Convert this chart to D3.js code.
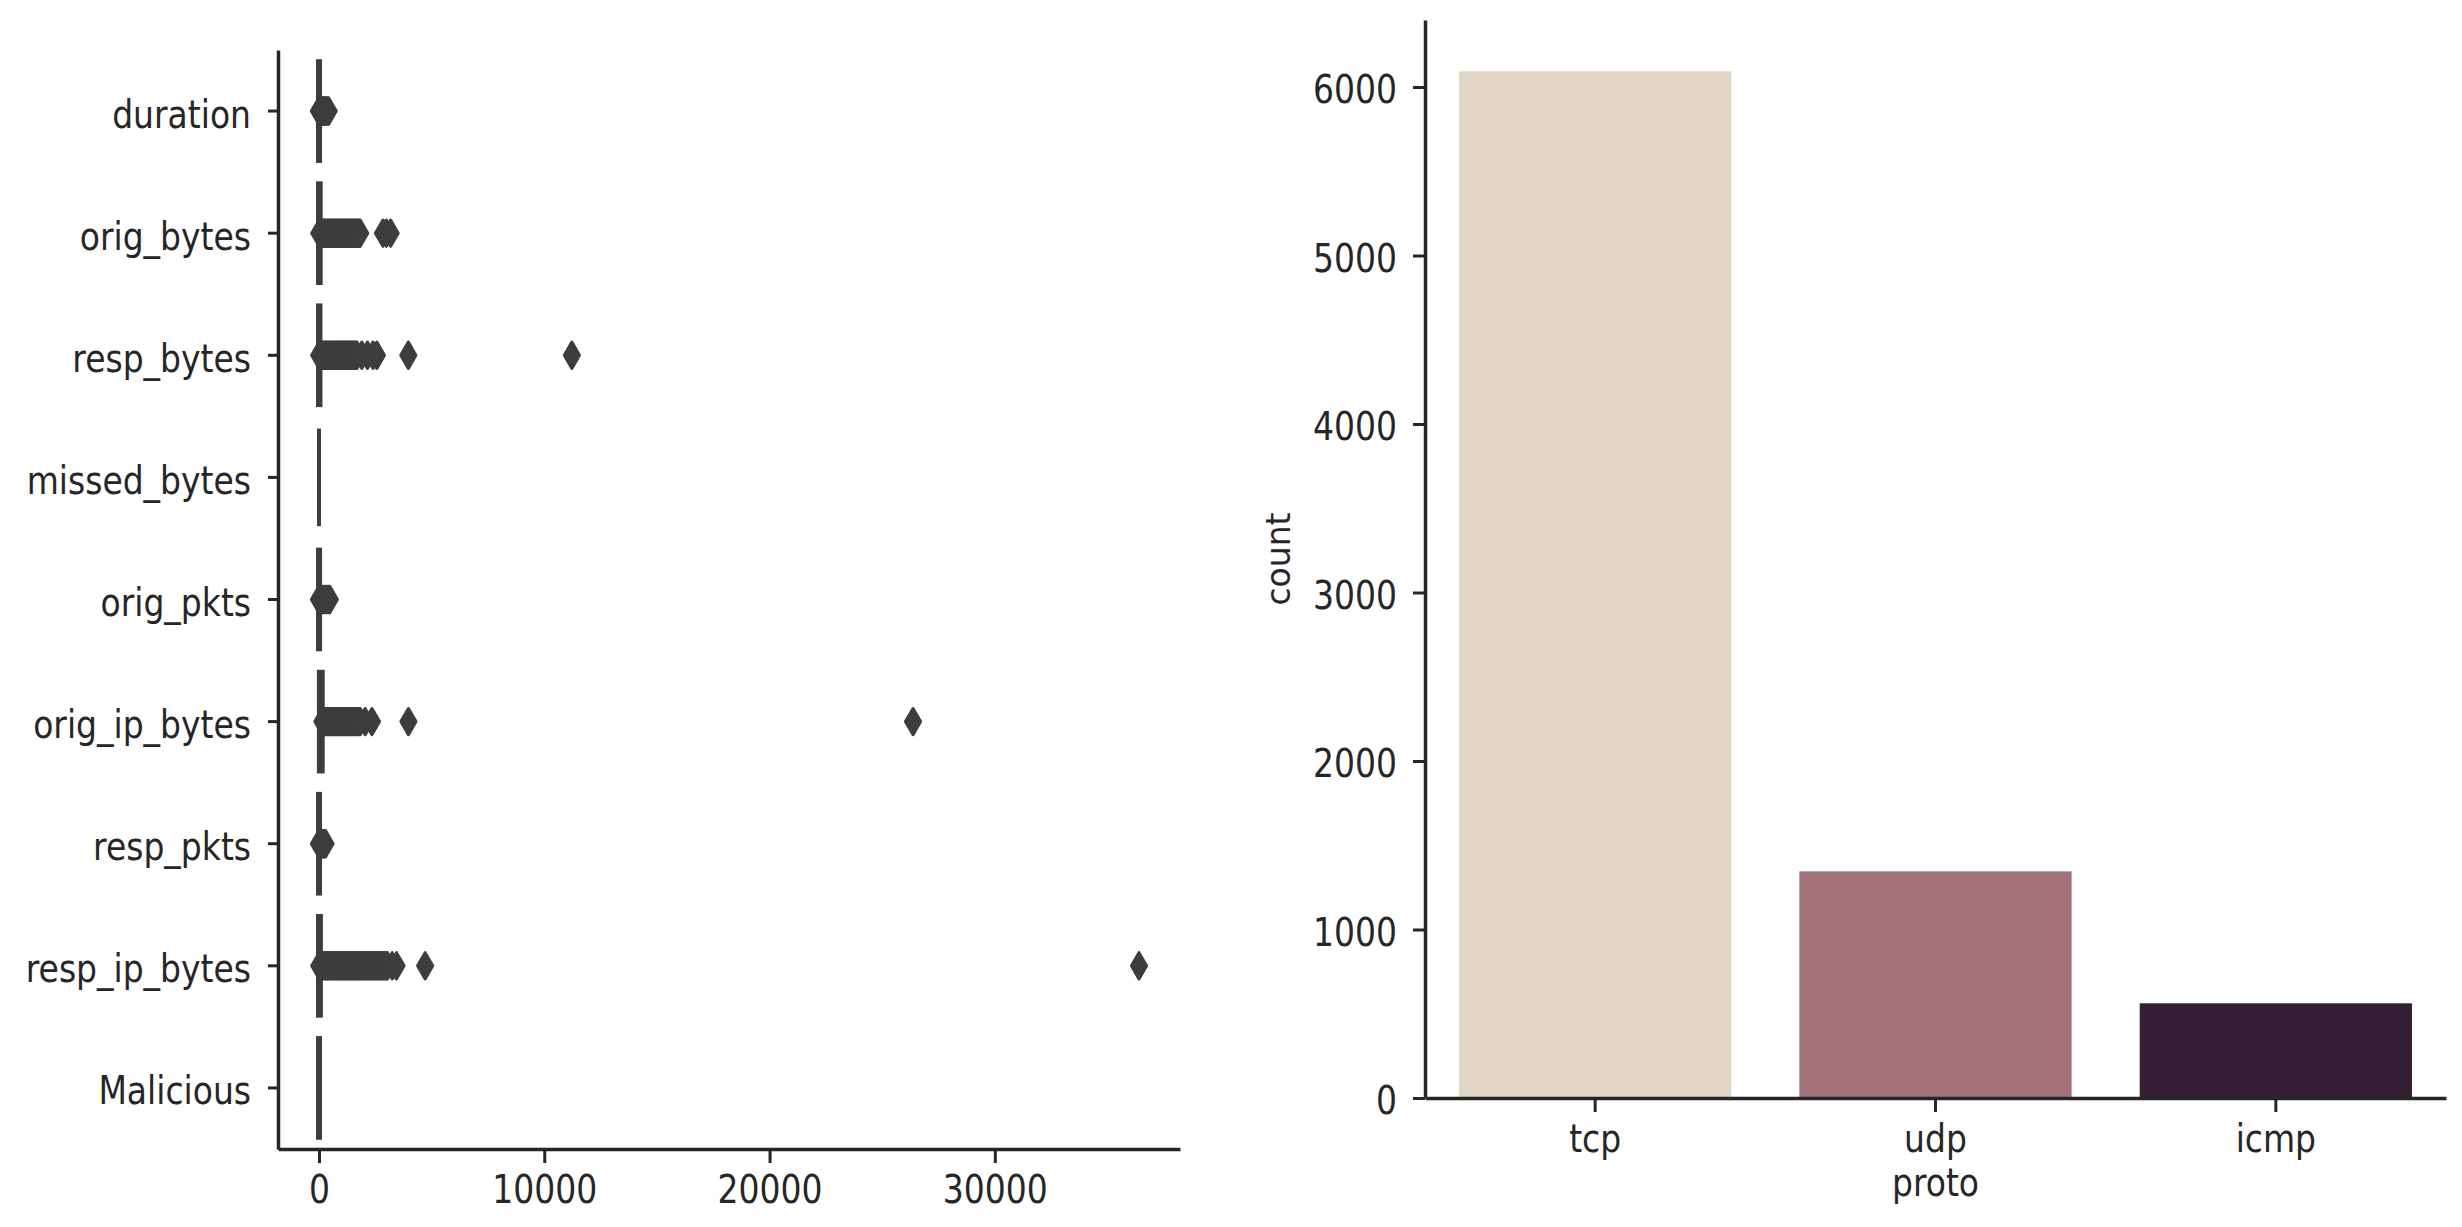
<!DOCTYPE html>
<html>
<head>
<meta charset="utf-8">
<script src="https://cdn.jsdelivr.net/npm/d3@7/dist/d3.min.js"></script>
<style>
body { margin: 0; background: #fff; }
</style>
</head>
<body>
<div class="canvas"></div>
<script>
// ---- left panel data: boxplot of the numeric columns
const features = ['duration','orig_bytes','resp_bytes','missed_bytes','orig_pkts','orig_ip_bytes','resp_pkts','resp_ip_bytes','Malicious'];
const boxQ1 = [0, 0, 0, 0, 1, 40, 0, 0, 0];
const boxMedian = [0, 0, 0, 0, 1, 60, 0, 0, 0];
const boxQ3 = [2, 30, 20, 0, 3, 120, 1, 40, 1];
const whiskerLow = [0, 0, 0, 0, 1, 40, 0, 0, 0];
const whiskerHigh = [5, 75, 50, 0, 6, 240, 3, 100, 1];

const durationOut = [2, 9, 18, 30, 44, 60, 78, 98, 120, 145, 172, 200, 232, 265, 300, 338, 380, 430];
const origBytesOut = [12, 48, 85, 120, 158, 196, 235, 272, 310, 350, 390, 428, 466, 505, 545, 585, 622, 660, 700, 740, 778, 816, 855, 895, 935, 972, 1010, 1050, 1090, 1128, 1166, 1205, 1245, 1285, 1322, 1360, 1400, 1440, 1478, 1516, 1555, 1595, 1635, 1672, 1710, 1750, 1790, 1830, 2840, 2990, 3180];
const respBytesOut = [10, 46, 84, 122, 160, 198, 236, 274, 312, 350, 388, 426, 464, 502, 540, 578, 616, 654, 692, 730, 768, 806, 844, 882, 920, 958, 996, 1034, 1072, 1110, 1148, 1186, 1224, 1262, 1300, 1338, 1376, 1414, 1452, 1490, 1528, 1566, 1604, 1642, 1686, 1900, 2150, 2400, 2570, 3965, 11225];
const missedBytesOut = [];
const origPktsOut = [2, 14, 32, 55, 82, 112, 146, 184, 226, 272, 322, 376, 430, 480];
const origIpBytesOut = [150, 190, 228, 268, 310, 350, 388, 430, 470, 508, 550, 590, 628, 670, 710, 748, 790, 830, 868, 910, 950, 988, 1030, 1070, 1108, 1150, 1190, 1228, 1270, 1310, 1348, 1390, 1430, 1468, 1510, 1550, 1588, 1630, 1670, 1708, 1750, 1790, 1830, 2050, 2350, 3970, 26370];
const respPktsOut = [2, 12, 26, 44, 66, 92, 122, 156, 194, 236, 290];
const respIpBytesOut = [10, 55, 100, 145, 190, 235, 280, 325, 370, 415, 460, 505, 550, 595, 640, 685, 730, 775, 820, 865, 910, 955, 1000, 1045, 1090, 1135, 1180, 1225, 1270, 1315, 1360, 1405, 1450, 1495, 1540, 1585, 1630, 1675, 1720, 1765, 1810, 1855, 1900, 1945, 1990, 2035, 2080, 2125, 2170, 2215, 2260, 2305, 2350, 2395, 2440, 2485, 2530, 2575, 2620, 2665, 2710, 2755, 2800, 2845, 2890, 2935, 2980, 3040, 3250, 3440, 4712, 36400];
const maliciousOut = [];
const outliers = [durationOut, origBytesOut, respBytesOut, missedBytesOut, origPktsOut, origIpBytesOut, respPktsOut, respIpBytesOut, maliciousOut];
const valueTicks = [0, 10000, 20000, 30000];

// ---- right panel data: count of rows per protocol
const protocols = ['tcp', 'udp', 'icmp'];
const protoCounts = [6093, 1345, 562];
const countTicks = [0, 1000, 2000, 3000, 4000, 5000, 6000];

const ink = '#262626';
const boxGray = '#3d3d3d';
const textStretch = 1.17;

const svg = d3.select('.canvas')
  .append('svg')
    .attr('width', 2462)
    .attr('height', 1227)
    .style('display', 'block')
    .attr('font-family', 'DejaVu Sans, sans-serif');

svg.append('rect')
    .attr('width', 2462)
    .attr('height', 1227)
    .attr('fill', '#fff');

function styleAxis(g, tickWidth) {
  g.attr('font-size', 33).attr('font-family', 'DejaVu Sans, sans-serif');
  g.select('.domain').attr('stroke', ink).attr('stroke-width', 3.5);
  g.selectAll('.tick line').attr('stroke', ink).attr('stroke-width', tickWidth);
  g.selectAll('.tick text').attr('fill', ink);
}

// ================= left: boxplot =================
const allValues = outliers.flat().concat(whiskerHigh);
const maxVal = d3.max(allValues);
const minVal = Math.min(0, d3.min(allValues));
const pad = (maxVal - minVal) * 0.05;

const xBox = d3.scaleLinear()
  .domain([minVal - pad, maxVal + pad])
  .range([278, 1180]);

const yBox = d3.scaleBand()
  .domain(features)
  .range([50, 1149]);

const bw = yBox.bandwidth();
const boxes = svg.append('g');

features.forEach((f, i) => {
  const cy = yBox(f) + bw / 2;
  const row = boxes.append('g');

  // whiskers
  row.append('line')
    .attr('x1', xBox(whiskerLow[i])).attr('x2', xBox(boxQ1[i]))
    .attr('y1', cy).attr('y2', cy)
    .attr('stroke', boxGray).attr('stroke-width', 4);
  row.append('line')
    .attr('x1', xBox(boxQ3[i])).attr('x2', xBox(whiskerHigh[i]))
    .attr('y1', cy).attr('y2', cy)
    .attr('stroke', boxGray).attr('stroke-width', 4);

  // box
  row.append('rect')
    .attr('x', xBox(boxQ1[i]))
    .attr('y', yBox(f) + bw * 0.1)
    .attr('width', Math.max(0, xBox(boxQ3[i]) - xBox(boxQ1[i])))
    .attr('height', bw * 0.8)
    .attr('fill', boxGray)
    .attr('stroke', boxGray)
    .attr('stroke-width', 6);

  row.append('line')
    .attr('x1', xBox(boxMedian[i])).attr('x2', xBox(boxMedian[i]))
    .attr('y1', yBox(f) + bw * 0.1).attr('y2', yBox(f) + bw * 0.9)
    .attr('stroke', boxGray).attr('stroke-width', 4);

  // outliers (thin diamonds with a soft edge)
  row.selectAll('path')
    .data(outliers[i])
    .enter()
    .append('path')
      .attr('d', d3.symbol(d3.symbolDiamond).size(200))
      .attr('transform', d => `translate(${xBox(d)},${cy})`)
      .attr('fill', boxGray)
      .attr('stroke', boxGray)
      .attr('stroke-width', 3)
      .attr('stroke-linejoin', 'round');
});

const xBoxAxis = svg.append('g')
  .attr('transform', 'translate(0,1149)')
  .call(d3.axisBottom(xBox).tickValues(valueTicks).tickSize(14).tickSizeOuter(0).tickFormat(d3.format('d')));
styleAxis(xBoxAxis, 3);
xBoxAxis.selectAll('.tick text')
  .attr('y', 54 / textStretch)
  .attr('dy', 0)
  .attr('transform', `scale(1,${textStretch})`);

const yBoxAxis = svg.append('g')
  .attr('transform', 'translate(278,0)')
  .call(d3.axisLeft(yBox).tickSize(10).tickSizeOuter(0));
styleAxis(yBoxAxis, 3);
yBoxAxis.selectAll('.tick text')
  .attr('x', -27)
  .attr('y', 16.5 / textStretch)
  .attr('dy', 0)
  .attr('transform', `scale(1,${textStretch})`);

// ================= right: count plot =================
const xProto = d3.scaleBand()
  .domain(protocols)
  .range([1425, 2446])
  .paddingInner(0.2)
  .paddingOuter(0.1);

const yCount = d3.scaleLinear()
  .domain([0, d3.max(protoCounts) * 1.05])
  .range([1098, 20]);

const protoColor = d3.scaleOrdinal()
  .domain(protocols)
  .range(['#e0d5c6', '#a3727a', '#331e33']);

svg.append('g')
  .selectAll('rect')
  .data(protocols)
  .enter()
  .append('rect')
    .attr('x', d => xProto(d))
    .attr('y', (d, i) => yCount(protoCounts[i]))
    .attr('width', xProto.bandwidth())
    .attr('height', (d, i) => yCount(0) - yCount(protoCounts[i]))
    .attr('fill', d => protoColor(d));

const xProtoAxis = svg.append('g')
  .attr('transform', 'translate(0,1098)')
  .call(d3.axisBottom(xProto).tickSize(14).tickSizeOuter(0));
styleAxis(xProtoAxis, 3);
xProtoAxis.selectAll('.tick text')
  .attr('y', 54.5 / textStretch)
  .attr('dy', 0)
  .attr('transform', `scale(1,${textStretch})`);

const yCountAxis = svg.append('g')
  .attr('transform', 'translate(1425,0)')
  .call(d3.axisLeft(yCount).tickValues(countTicks).tickSize(12).tickSizeOuter(0).tickFormat(d3.format('d')));
styleAxis(yCountAxis, 3);
yCountAxis.selectAll('.tick text')
  .attr('x', -28)
  .attr('y', 15.5 / textStretch)
  .attr('dy', 0)
  .attr('transform', `scale(1,${textStretch})`);

// axis titles
svg.append('text')
  .attr('transform', `translate(1935.5,1196) scale(1,${textStretch})`)
  .attr('text-anchor', 'middle')
  .attr('font-size', 33)
  .attr('fill', ink)
  .text('proto');

svg.append('text')
  .attr('transform', 'translate(1290,559) rotate(-90)')
  .attr('text-anchor', 'middle')
  .attr('font-size', 33)
  .attr('fill', ink)
  .text('count');
</script>
</body>
</html>
